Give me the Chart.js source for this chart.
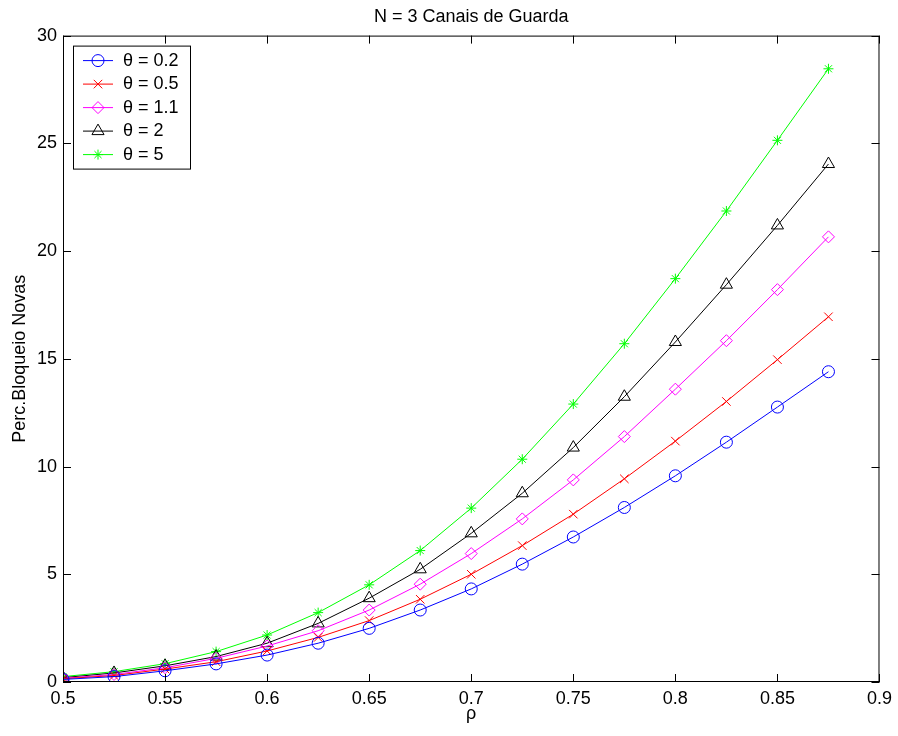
<!DOCTYPE html>
<html lang="pt">
<head>
    <meta charset="UTF-8">
    <title>N = 3 Canais de Guarda</title>
    <style>
        body {
            margin: 0;
            padding: 0;
            background-color: white;
            overflow: hidden;
        }
        #wrap {
            width: 898px;
            height: 736px;
        }
    </style>
    <script src="https://cdn.jsdelivr.net/npm/chart.js@4/dist/chart.umd.min.js"></script>
</head>
<body>

<div id="wrap"><canvas id="bloqChart"></canvas></div>

<script>
    // Carga (rho) e percentagem de bloqueio de novas chamadas, por theta
    const rho = [0.5, 0.525, 0.55, 0.575, 0.6, 0.625, 0.65, 0.675, 0.7, 0.725, 0.75, 0.775, 0.8, 0.825, 0.85, 0.875];
    const theta02 = [0.12, 0.25, 0.52, 0.84, 1.25, 1.80, 2.49, 3.34, 4.32, 5.47, 6.73, 8.10, 9.57, 11.13, 12.76, 14.40];
    const theta05 = [0.15, 0.30, 0.60, 0.94, 1.44, 2.07, 2.85, 3.84, 5.00, 6.33, 7.79, 9.43, 11.18, 13.02, 14.96, 16.95];
    const theta11 = [0.17, 0.35, 0.66, 1.10, 1.67, 2.38, 3.34, 4.54, 5.96, 7.57, 9.38, 11.39, 13.59, 15.84, 18.21, 20.66];
    const theta2 = [0.20, 0.42, 0.75, 1.18, 1.80, 2.72, 3.89, 5.23, 6.90, 8.76, 10.88, 13.24, 15.78, 18.44, 21.19, 24.04];
    const theta5 = [0.25, 0.48, 0.85, 1.41, 2.18, 3.22, 4.51, 6.10, 8.07, 10.34, 12.90, 15.70, 18.72, 21.86, 25.14, 28.46];

    const seriesLabels = ['θ = 0.2', 'θ = 0.5', 'θ = 1.1', 'θ = 2', 'θ = 5'];
    const xTicks = [0.5, 0.55, 0.6, 0.65, 0.7, 0.75, 0.8, 0.85, 0.9];
    const yTicks = [0, 5, 10, 15, 20, 25, 30];

    const fontFamily = '"Liberation Sans", Arial, Helvetica, sans-serif';
    const styles = [
        { color: '#0000ff', pointStyle: 'circle', radius: 6 },
        { color: '#ff0000', pointStyle: 'crossRot', radius: 6 },
        { color: '#ff00ff', pointStyle: 'rectRot', radius: 6 },
        { color: '#000000', pointStyle: 'triangle', radius: 7 },
        { color: '#00ff00', pointStyle: 'star', radius: 5 }
    ];

    function makeDataset(values, i) {
        const s = styles[i];
        return {
            label: seriesLabels[i],
            data: rho.map((x, k) => ({ x: x, y: values[k] })),
            borderColor: s.color,
            backgroundColor: 'transparent',
            borderWidth: 1,
            pointStyle: s.pointStyle,
            pointRadius: s.radius,
            pointBorderColor: s.color,
            pointBackgroundColor: 'transparent',
            pointBorderWidth: 1,
            tension: 0
        };
    }

    // Moldura da area do grafico com marcas de escala para dentro (estilo MATLAB)
    const boxPlugin = {
        id: 'boxPlugin',
        afterDraw(chart) {
            const ctx = chart.ctx;
            const a = chart.chartArea;
            const xs = chart.scales.x;
            const ys = chart.scales.y;
            const tl = 8;
            ctx.save();
            ctx.strokeStyle = '#000';
            ctx.lineWidth = 1;
            ctx.beginPath();
            xTicks.forEach(v => {
                const px = Math.round(xs.getPixelForValue(v)) + 0.5;
                ctx.moveTo(px, a.bottom);
                ctx.lineTo(px, a.bottom - tl);
                ctx.moveTo(px, a.top);
                ctx.lineTo(px, a.top + tl);
            });
            yTicks.forEach(v => {
                const py = Math.round(ys.getPixelForValue(v)) + 0.5;
                ctx.moveTo(a.left, py);
                ctx.lineTo(a.left + tl, py);
                ctx.moveTo(a.right, py);
                ctx.lineTo(a.right - tl, py);
            });
            ctx.stroke();
            ctx.strokeRect(a.left + 0.5, a.top + 0.5, a.right - a.left - 1, a.bottom - a.top - 1);
            ctx.restore();
        }
    };

    // Legenda dentro da area do grafico, canto superior esquerdo
    const legendPlugin = {
        id: 'boxLegend',
        afterDraw(chart) {
            const ctx = chart.ctx;
            const a = chart.chartArea;
            const bx = a.left + 10;
            const by = a.top + 10;
            const bw = 117;
            const bh = 123;
            ctx.save();
            ctx.fillStyle = '#fff';
            ctx.fillRect(bx, by, bw, bh);
            ctx.strokeStyle = '#000';
            ctx.lineWidth = 1;
            ctx.strokeRect(bx + 0.5, by + 0.5, bw, bh);
            ctx.font = '18px ' + fontFamily;
            ctx.textBaseline = 'middle';
            ctx.textAlign = 'left';
            chart.data.datasets.forEach((ds, i) => {
                const y = by + 15 + i * 23.5;
                const s = styles[i];
                ctx.strokeStyle = s.color;
                ctx.beginPath();
                ctx.moveTo(bx + 10, y);
                ctx.lineTo(bx + 40, y);
                ctx.stroke();
                ctx.fillStyle = 'transparent';
                Chart.helpers.drawPoint(ctx, {
                    pointStyle: s.pointStyle,
                    radius: s.radius,
                    rotation: 0,
                    borderWidth: 1
                }, bx + 25, y);
                ctx.fillStyle = '#000';
                ctx.fillText(ds.label, bx + 50, y);
            });
            ctx.restore();
        }
    };

    const ctx = document.getElementById('bloqChart').getContext('2d');
    const bloqChart = new Chart(ctx, {
        type: 'line',
        data: {
            datasets: [
                makeDataset(theta02, 0),
                makeDataset(theta05, 1),
                makeDataset(theta11, 2),
                makeDataset(theta2, 3),
                makeDataset(theta5, 4)
            ]
        },
        options: {
            responsive: true,
            maintainAspectRatio: false,
            animation: false,
            layout: {
                padding: { left: 0, right: 16, top: 0, bottom: 0 }
            },
            scales: {
                x: {
                    type: 'linear',
                    min: 0.5,
                    max: 0.9,
                    afterBuildTicks(scale) {
                        scale.ticks = xTicks.map(v => ({ value: v }));
                    },
                    afterFit(scale) {
                        scale.height = 54;
                    },
                    ticks: {
                        color: '#000',
                        padding: 6,
                        maxRotation: 0,
                        autoSkip: false,
                        font: { size: 18, family: fontFamily },
                        callback: v => String(Number(v.toFixed(2)))
                    },
                    grid: { display: false, drawTicks: false },
                    border: { display: false },
                    title: {
                        display: true,
                        text: 'ρ',
                        color: '#000',
                        font: { size: 18, family: fontFamily },
                        padding: { top: 0, bottom: 11 }
                    }
                },
                y: {
                    min: 0,
                    max: 30,
                    afterBuildTicks(scale) {
                        scale.ticks = yTicks.map(v => ({ value: v }));
                    },
                    afterFit(scale) {
                        scale.width = 63;
                    },
                    ticks: {
                        color: '#000',
                        padding: 6,
                        font: { size: 18, family: fontFamily }
                    },
                    grid: { display: false, drawTicks: false },
                    border: { display: false },
                    title: {
                        display: true,
                        text: 'Perc.Bloqueio Novas',
                        color: '#000',
                        font: { size: 18, family: fontFamily },
                        padding: { top: 9, bottom: 0 }
                    }
                }
            },
            plugins: {
                legend: { display: false },
                tooltip: { enabled: false },
                title: {
                    display: true,
                    text: 'N = 3 Canais de Guarda',
                    color: '#000',
                    fullSize: false,
                    font: { size: 18, weight: 'normal', family: fontFamily },
                    padding: { top: 6, bottom: 8 }
                }
            }
        },
        plugins: [boxPlugin, legendPlugin]
    });
</script>

</body>
</html>
